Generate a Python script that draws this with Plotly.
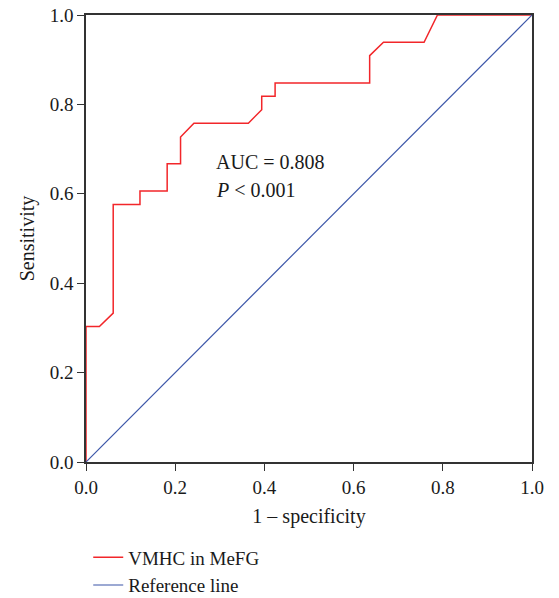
import plotly.graph_objects as go

# ROC curve points (1 - specificity, sensitivity)
fpr = [0.0, 0.0, 0.030, 0.061, 0.061, 0.121, 0.121, 0.182, 0.182, 0.212, 0.212,
       0.242, 0.364, 0.394, 0.394, 0.424, 0.424, 0.636, 0.636, 0.667, 0.758, 0.788, 1.0]
tpr = [0.0, 0.303, 0.303, 0.333, 0.576, 0.576, 0.606, 0.606, 0.667, 0.667, 0.727,
       0.758, 0.758, 0.788, 0.818, 0.818, 0.848, 0.848, 0.909, 0.939, 0.939, 1.0, 1.0]
ref_x = [0.0, 1.0]
ref_y = [0.0, 1.0]
tick_vals = [0.0, 0.2, 0.4, 0.6, 0.8, 1.0]
tick_text = ["0.0", "0.2", "0.4", "0.6", "0.8", "1.0"]

FONT = "Liberation Serif"

fig = go.Figure()
fig.add_trace(go.Scatter(x=fpr, y=tpr, mode="lines", name="VMHC in MeFG",
                         line=dict(color="#f2262a", width=1.5)))
fig.add_trace(go.Scatter(x=ref_x, y=ref_y, mode="lines", name="Reference line",
                         line=dict(color="#3b55a8", width=1.2)))

fig.add_annotation(x=0.288, y=0.671, xref="x", yref="y", text="AUC = 0.808",
                   showarrow=False, xanchor="left", yanchor="middle",
                   font=dict(family=FONT, size=20, color="#1a1a1a"))
fig.add_annotation(x=0.288, y=0.608, xref="x", yref="y", text="<i>P</i> < 0.001",
                   showarrow=False, xanchor="left", yanchor="middle",
                   font=dict(family=FONT, size=20, color="#1a1a1a"))

axis_common = dict(
    range=[0, 1], tickvals=tick_vals, ticktext=tick_text,
    showgrid=False, zeroline=False, showline=True, linecolor="#333333",
    linewidth=1.5, mirror=True, ticks="outside", ticklen=7, tickwidth=1.2,
    tickcolor="#333333", tickfont=dict(family=FONT, size=19, color="#1a1a1a"),
)

fig.update_layout(
    width=559, height=598,
    margin=dict(l=86, r=27, t=15, b=136, autoexpand=False),
    plot_bgcolor="white", paper_bgcolor="white",
    font=dict(family=FONT, size=20, color="#1a1a1a"),
    xaxis=dict(title=dict(text="1 – specificity", font=dict(family=FONT, size=20), standoff=12),
               **axis_common),
    yaxis=dict(title=dict(text="Sensitivity", font=dict(family=FONT, size=20), standoff=10),
               **axis_common),
    legend=dict(orientation="v", x=0.005, y=-0.171, xanchor="left", yanchor="top",
                font=dict(family=FONT, size=19), tracegroupgap=0,
                bgcolor="rgba(0,0,0,0)"),
    showlegend=True,
)

fig.write_html("out.html", config={"displayModeBar": False},
               post_script="document.body.style.margin='0px';")
